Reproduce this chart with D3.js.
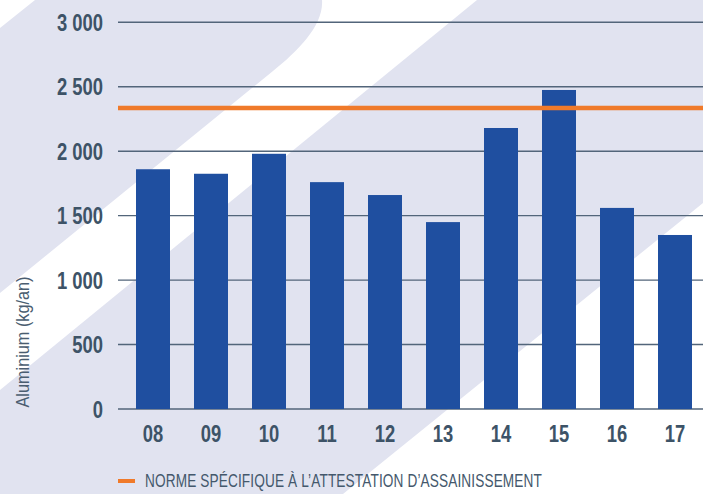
<!DOCTYPE html>
<html>
<head>
<meta charset="utf-8">
<script src="https://cdn.jsdelivr.net/npm/d3@7"></script>
<style>
  body { margin: 0; background: #fff; }
  svg { display: block; }
  text { font-family: 'Liberation Sans', Arial, sans-serif; }
</style>
</head>
<body>
<svg class="main"></svg>
<script>
// data
let years = ['08','09','10','11','12','13','14','15','16','17'];
let aluminium = [1860, 1825, 1980, 1760, 1660, 1450, 2180, 2475, 1560, 1350];
let norme = 2335;
let yTicks = [0, 500, 1000, 1500, 2000, 2500, 3000];
let yTickLabels = ['0', '500', '1 000', '1 500', '2 000', '2 500', '3 000'];
let yTitle = 'Aluminium  (kg/an)';
let legendLabel = 'NORME SPÉCIFIQUE À L’ATTESTATION D’ASSAINISSEMENT';

let w = 703, h = 494;
let left = 118;
let textColor = '#3d5367';
let lavender = '#e1e3f0';
let barColor = '#1f4fa0';
let orange = '#f07a2a';

// squeeze glyphs horizontally, no condensed font installed
let narrow = (sel, k) => sel.each(function () {
  let len = this.getComputedTextLength();
  this.setAttribute('textLength', len * k);
  this.setAttribute('lengthAdjust', 'spacingAndGlyphs');
});

let svg = d3.select('.main')
  .attr('width', w)
  .attr('height', h);

// background stripes
svg.append('rect').attr('width', w).attr('height', h).attr('fill', '#fff');
svg.append('path')
  .attr('d', 'M35,0 L322,0 C324,25 298,51 273,71 L0,293 L0,28 Z')
  .attr('fill', lavender);
svg.append('path')
  .attr('d', 'M477,0 L703,0 L703,203 L343,494 L0,494 L0,390 Z')
  .attr('fill', lavender);

let y = d3.scaleLinear()
  .domain([0, 3000])
  .range([409, 22.3]);

let x = d3.scaleBand()
  .domain(years)
  .range([124, 704])
  .paddingInner(0.414)
  .paddingOuter(0.207);

// grid
svg.append('g')
  .selectAll('line')
  .data(yTicks)
  .enter()
  .append('line')
  .attr('x1', left)
  .attr('x2', w)
  .attr('y1', d => y(d))
  .attr('y2', d => y(d))
  .attr('stroke', '#52657a')
  .attr('stroke-width', 1.4);

// y axis labels
let yAxis = svg.append('g')
  .attr('transform', `translate(${left},0)`)
  .call(d3.axisLeft(y)
    .tickValues(yTicks)
    .tickSize(0)
    .tickPadding(15)
    .tickFormat((d, i) => yTickLabels[i]));
yAxis.select('.domain').remove();
yAxis.selectAll('text')
  .attr('font-family', null)
  .attr('fill', textColor)
  .attr('font-size', 23)
  .attr('font-weight', 'bold')
  .attr('dy', '0.35em')
  .call(narrow, 0.8);

// bars
svg.append('g')
  .selectAll('rect')
  .data(aluminium)
  .enter()
  .append('rect')
  .attr('x', (d, i) => x(years[i]))
  .attr('width', x.bandwidth())
  .attr('y', d => y(d))
  .attr('height', d => y(0) - y(d))
  .attr('fill', barColor);

// x axis labels
let xAxis = svg.append('g')
  .attr('transform', `translate(0,${y(0)})`)
  .call(d3.axisBottom(x).tickSize(0).tickPadding(17));
xAxis.select('.domain').remove();
xAxis.selectAll('text')
  .attr('font-family', null)
  .attr('fill', textColor)
  .attr('font-size', 23)
  .attr('font-weight', 'bold')
  .call(narrow, 0.8);

// norm line
svg.append('line')
  .attr('x1', left)
  .attr('x2', w)
  .attr('y1', y(norme))
  .attr('y2', y(norme))
  .attr('stroke', orange)
  .attr('stroke-width', 4.5);

// y title
svg.append('text')
  .attr('transform', 'translate(29,342) rotate(-90)')
  .attr('text-anchor', 'middle')
  .attr('fill', '#4a5d70')
  .attr('font-size', 19)
  .attr('textLength', 131)
  .attr('lengthAdjust', 'spacingAndGlyphs')
  .text(yTitle);

// legend
svg.append('line')
  .attr('x1', 118).attr('x2', 135)
  .attr('y1', 481).attr('y2', 481)
  .attr('stroke', orange)
  .attr('stroke-width', 4);
let sx = 0.78;
let leg = svg.append('text')
  .attr('transform', `translate(145,487) scale(${sx},1)`)
  .attr('fill', '#44586c')
  .attr('font-size', 17.5)
  .text(legendLabel);
let natural = leg.node().getComputedTextLength();
leg.attr('letter-spacing', (397 / sx - natural) / legendLabel.length);
</script>
</body>
</html>
